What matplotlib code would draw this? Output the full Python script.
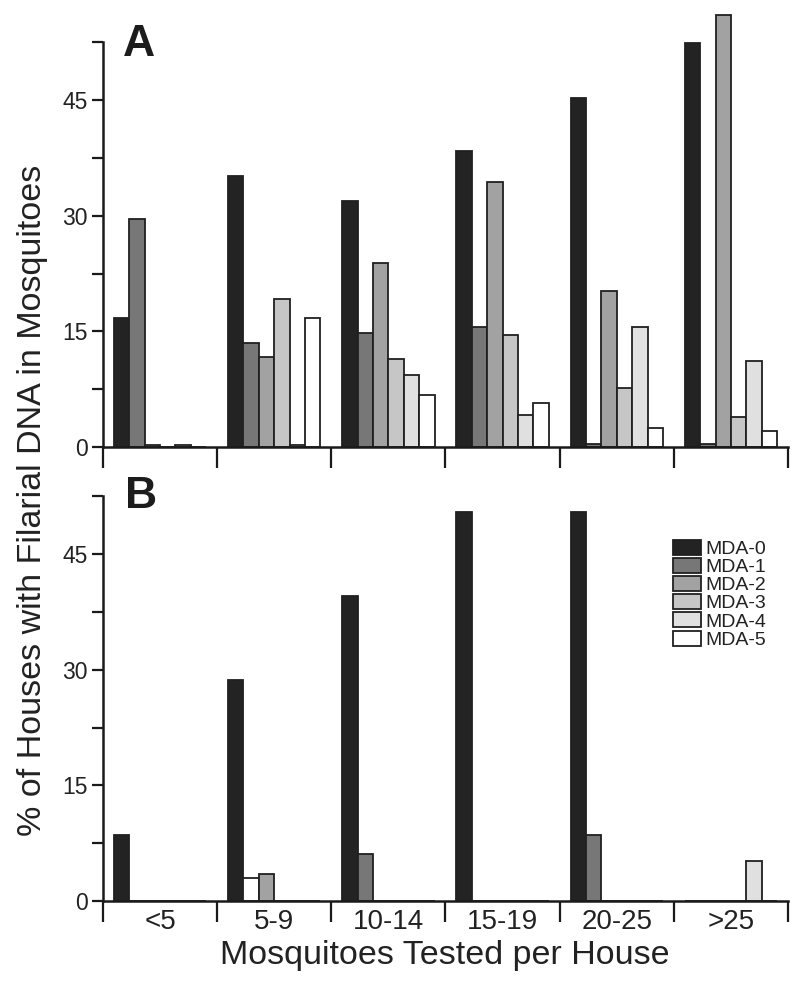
import matplotlib
matplotlib.use("Agg")
import matplotlib.pyplot as plt
import numpy as np

# data
groups = ["<5", "5-9", "10-14", "15-19", "20-25", ">25"]
series = ["MDA-0", "MDA-1", "MDA-2", "MDA-3", "MDA-4", "MDA-5"]

# panel A, one list per MDA round, values per group
a_mda0 = [16.7, 35.1, 31.9, 38.4, 45.2, 52.4]
a_mda1 = [29.6, 13.5, 14.8, 15.5, 0.4, 0.4]
a_mda2 = [0.3, 11.7, 23.9, 34.4, 20.2, 56.0]
a_mda3 = [0.0, 19.2, 11.4, 14.5, 7.7, 3.9]
a_mda4 = [0.2, 0.3, 9.4, 4.2, 15.6, 11.2]
a_mda5 = [0.0, 16.7, 6.7, 5.7, 2.5, 2.1]

# panel B
b_mda0 = [8.5, 28.6, 39.5, 50.4, 50.4, 0.0]
b_mda1 = [0.0, 3.0, 6.1, 0.0, 8.6, 0.0]
b_mda2 = [0.0, 3.5, 0.0, 0.0, 0.0, 0.0]
b_mda3 = [0.0, 0.0, 0.0, 0.0, 0.0, 0.0]
b_mda4 = [0.0, 0.0, 0.0, 0.0, 0.0, 5.2]
b_mda5 = [0.0, 0.0, 0.0, 0.0, 0.0, 0.0]

yticks_major = [0, 15, 30, 45]

colors = ["#232323", "#777777", "#a2a2a2", "#c6c6c6", "#e0e0e0", "#ffffff"]
edge = "#202020"
NARROW = ["Liberation Sans Narrow", "Liberation Sans"]
REG = ["Liberation Sans", "DejaVu Sans"]

W, H = 800, 997
fig = plt.figure(figsize=(W / 100, H / 100), dpi=100)

def px_axes(left, bottom_px, right, top_px):
    return [left / W, 1 - bottom_px / H, (right - left) / W, (bottom_px - top_px) / H]

ppu = 7.711  # pixels per percent
axA = fig.add_axes(px_axes(103, 447, 788, 447 - 57 * ppu))
axB = fig.add_axes(px_axes(103, 901, 788, 901 - 53 * ppu))

x = np.arange(len(groups))
bw = 0.135

def draw(ax, data, ymax):
    bars = []
    for i, vals in enumerate(data):
        b = ax.bar(x + (i - 2.5) * bw, vals, width=bw, color=colors[i],
                   edgecolor=edge, linewidth=1.3, label=series[i], zorder=2)
        bars.append(b)
    ax.set_xlim(-0.5, len(groups) - 0.5)
    ax.set_ylim(0, ymax)
    for s in ["top", "right"]:
        ax.spines[s].set_visible(False)
    ax.spines["left"].set_bounds(0, 52.5)
    ax.spines["left"].set_linewidth(1.8)
    ax.spines["bottom"].set_linewidth(1.8)
    ax.spines["left"].set_color("#1a1a1a")
    ax.spines["bottom"].set_color("#1a1a1a")
    ax.spines["bottom"].set_zorder(3)
    ax.set_yticks(yticks_major)
    ax.set_yticks(np.arange(7.5, 53, 15), minor=True)
    ax.tick_params(axis="y", which="both", length=8, width=1.6, direction="out",
                   color="#1a1a1a", pad=3)
    ax.set_yticklabels([str(t) for t in yticks_major], family=REG, fontsize=16.5,
                       color="#222222")
    ax.set_xticks(np.arange(-0.5, len(groups), 1.0))
    ax.set_xticklabels([])
    ax.tick_params(axis="x", which="major", length=15, width=1.6, direction="out",
                   color="#1a1a1a")
    ax.set_xticks(x, minor=True)
    ax.tick_params(axis="x", which="minor", length=0)
    return bars

draw(axA, [a_mda0, a_mda1, a_mda2, a_mda3, a_mda4, a_mda5], 57)
bB = draw(axB, [b_mda0, b_mda1, b_mda2, b_mda3, b_mda4, b_mda5], 53)
# the small 5-9 bar in B is drawn unfilled in the original
bB[1].patches[1].set_facecolor("white")

axB.set_xticklabels(groups, minor=True, family=NARROW, fontsize=20, color="#222222")
axB.tick_params(axis="x", which="minor", pad=6)

fig.text(123 / W, 1 - 56 / H, "A", fontsize=32, fontweight="bold", family=REG,
         color="#1c1c1c", va="baseline")
fig.text(125 / W, 1 - 508 / H, "B", fontsize=32, fontweight="bold", family=REG,
         color="#1c1c1c", va="baseline")

fig.text(33 / W, 1 - 500 / H, "% of Houses with Filarial DNA in Mosquitoes",
         rotation=90, ha="center", va="center", family=NARROW, fontsize=24.5,
         color="#222222")
fig.text(445 / W, 1 - 955 / H, "Mosquitoes Tested per House", ha="center",
         va="center", family=NARROW, fontsize=24.5, color="#222222")

axB.legend(loc="upper left", bbox_to_anchor=(663 / W, 1 - 530 / H),
           bbox_transform=fig.transFigure, frameon=False, borderpad=0,
           handlelength=1.45, handleheight=0.8, handletextpad=0.25,
           labelspacing=0.0, prop={"family": REG, "size": 14},
           labelcolor="#222222")

fig.savefig("out.png", dpi=100, facecolor="white")
